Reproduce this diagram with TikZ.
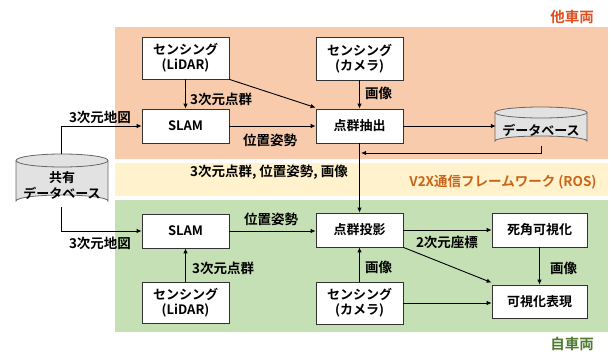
\documentclass[tikz,border=0pt]{standalone}
\usepackage{fontspec}
\setmainfont{Noto Sans CJK JP}[BoldFont={Noto Sans CJK JP Bold}]
\usetikzlibrary{arrows.meta}
\definecolor{peach}{HTML}{F8CBAD}
\definecolor{lyellow}{HTML}{FFF2CC}
\definecolor{lgreen}{HTML}{C5E0B4}
\definecolor{redor}{HTML}{E0501E}
\definecolor{dgreen}{HTML}{507A30}
\definecolor{orng}{HTML}{C9651A}
\definecolor{dbgray}{HTML}{E2E2E2}
\tikzset{
  box/.style={draw=black!80, line width=0.8pt, fill=white, align=center, inner sep=0pt,
    font=\fontsize{13}{15}\selectfont\bfseries},
  lbl/.style={font=\fontsize{13.5}{15}\selectfont\bfseries, inner sep=0pt},
  arr/.style={draw=black, line width=0.9pt, -{Latex[length=5pt,width=4.5pt]}},
  ln/.style={draw=black, line width=0.9pt},
  dbshape/.style={draw=black!60, line width=0.8pt, fill=dbgray},
}
\begin{document}
\begin{tikzpicture}[x=1pt,y=-1pt]
\useasboundingbox (0,0) rectangle (613,354);
% background regions
\fill[peach] (115,27) rectangle (608,159);
\fill[lyellow] (115,163) rectangle (608,196);
\fill[lgreen] (115,200) rectangle (608,332);
\node[font=\fontsize{14.5}{16}\selectfont\bfseries, text=redor, inner sep=0pt] (tsha) at (572,17) {他車両};
\node[font=\fontsize{14.5}{16}\selectfont\bfseries, text=dgreen, inner sep=0pt] (jsha) at (572,344) {自車両};
\node[lbl, text=orng] (v2x) at (503,182) {V2X通信フレームワーク (ROS)};

% top boxes
\node[box, minimum width=87pt, minimum height=42pt] (lidar1) at (185.5,58) {センシング\\(LiDAR)};
\node[box, minimum width=87pt, minimum height=34pt] (slam1) at (185.5,126) {SLAM};
\node[box, minimum width=87pt, minimum height=43pt] (cam1) at (359.5,58.5) {センシング\\(カメラ)};
\node[box, minimum width=87pt, minimum height=34pt] (extr) at (359.5,126) {点群抽出};

% top database cylinder
\draw[dbshape] (495,112.5) -- (495,141) arc[start angle=180,end angle=360,x radius=46,y radius=5] -- (587,112.5);
\draw[dbshape] (541,112.5) ellipse[x radius=46,y radius=5.5];
\node[font=\fontsize{13}{15}\selectfont\bfseries, inner sep=0pt, minimum width=90pt, minimum height=28pt] (db) at (541,130) {データベース};

% shared database cylinder
\draw[dbshape] (16,160.5) -- (16,201) arc[start angle=180,end angle=360,x radius=46,y radius=6] -- (108,160.5);
\draw[dbshape] (62,160.5) ellipse[x radius=46,y radius=6.5];
\node[font=\fontsize{13}{16}\selectfont\bfseries, inner sep=0pt, align=center, minimum width=90pt, minimum height=38pt] (sdb) at (62,185) {共有\\データベース};

% bottom boxes
\node[box, minimum width=87pt, minimum height=34pt] (slam2) at (185.5,231) {SLAM};
\node[box, minimum width=87pt, minimum height=41pt] (lidar2) at (185.5,302.5) {センシング\\(LiDAR)};
\node[box, minimum width=87pt, minimum height=34pt] (proj) at (359.5,230) {点群投影};
\node[box, minimum width=87pt, minimum height=42pt] (cam2) at (359.5,303) {センシング\\(カメラ)};
\node[box, minimum width=95pt, minimum height=34pt] (blind) at (539.5,230) {死角可視化};
\node[box, minimum width=95pt, minimum height=33pt] (vis) at (539.5,301.5) {可視化表現};

% coordinates
\coordinate (sdbtop) at (61,154);
\coordinate (sdbbot) at (61,207);
\coordinate (dbbot) at (541,146);
\coordinate (junc) at (359.5,153);

% top connectors
\draw[arr] (lidar1.south) -- (slam1.north);
\node[lbl, anchor=west] (l1) at (190,99) {3次元点群};
\draw[arr] (lidar1.south east) -- ([yshift=1pt]extr.north west);
\draw[arr] (cam1.south) -- (extr.north);
\node[lbl, anchor=west] (l2) at (365,93) {画像};
\draw[arr] (slam1.east) -- (extr.west);
\node[lbl] (l3) at (270,140) {位置姿勢};
\draw[arr] (extr.east) -- (db.west |- extr.east);
\draw[arr] (sdbtop) |- (slam1.west);
\node[lbl] (l4) at (100,117) {3次元地図};
\draw[arr] (dbbot) |- ([xshift=1.5pt]junc);
\draw[arr] (extr.south) -- (proj.north);
\node[lbl] (l5) at (269,172) {3次元点群, 位置姿勢, 画像};

% bottom connectors
\draw[arr] (sdbbot) |- (slam2.west);
\node[lbl] (l6) at (100,243) {3次元地図};
\draw[arr] (slam2.east) -- (proj.west |- slam2.east);
\node[lbl] (l7) at (271,219) {位置姿勢};
\draw[arr] (lidar2.north) -- (slam2.south);
\node[lbl, anchor=west] (l8) at (192,268) {3次元点群};
\draw[arr] (cam2.north) -- (proj.south);
\node[lbl, anchor=west] (l9) at (365,267) {画像};
\draw[arr] (proj.east) -- (blind.west);
\node[lbl] (l10) at (447,242) {2次元座標};
\draw[arr] (proj.south east) -- ([yshift=2pt]vis.north west);
\draw[arr] (blind.south) -- (vis.north);
\node[lbl, anchor=west] (l11) at (550,268) {画像};
\draw[arr] (cam2.east) -- (vis.west |- cam2.east);
\end{tikzpicture}
\end{document}
